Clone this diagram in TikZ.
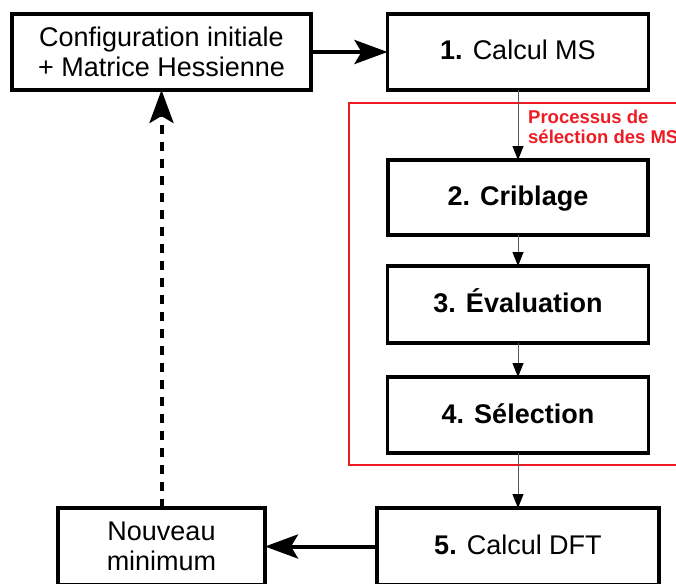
\documentclass[tikz,border=0pt]{standalone}
\usepackage{fontspec}
\setmainfont{Liberation Sans}
\usetikzlibrary{arrows.meta}
\definecolor{redbox}{RGB}{237,28,36}
\begin{document}
\begin{tikzpicture}[x=1pt,y=-1pt,
  box/.style={draw=black, line width=3.5pt, fill=white, inner sep=0pt, outer sep=0pt,
    font=\fontsize{27}{29.5}\selectfont},
  onel/.style={text height=20pt, text depth=4pt},
  thinarrow/.style={draw=black!65, line width=1pt,
    -{Triangle[length=14pt,width=11pt,color=black]}},
  bigarrow/.style={draw=black, line width=4pt,
    -{Stealth[length=33pt,width=24pt,inset=7pt]}},
  dasharrow/.style={draw=black, line width=4pt, dash pattern=on 9pt off 8pt,
    -{Stealth[length=33pt,width=24pt,inset=7pt]}}
]
\path[use as bounding box, clip] (0,0) rectangle (676,583);

% red process frame
\draw[redbox, line width=1.5pt] (349,103) rectangle (720,465);

\node[box, minimum width=299pt, minimum height=76pt, align=center] (config) at (161.5,52)
  {Configuration initiale\\+ Matrice Hessienne};
\node[box, onel, minimum width=261pt, minimum height=76pt] (calc1) at (518,52)
  {\textbf{1.} Calcul MS};
\node[box, onel, minimum width=260pt, minimum height=75pt, font=\bfseries\fontsize{27}{29.5}\selectfont] (crib) at (518,197.5)
  {2. Criblage};
\node[box, onel, minimum width=261pt, minimum height=77pt, font=\bfseries\fontsize{27}{29.5}\selectfont] (eval) at (518,304.5)
  {3. Évaluation};
\node[box, onel, minimum width=261pt, minimum height=76pt, font=\bfseries\fontsize{27}{29.5}\selectfont] (sel) at (518,415)
  {4. Sélection};
\node[box, onel, minimum width=282pt, minimum height=77pt] (dft) at (518,546.5)
  {\textbf{5.} Calcul DFT};
\node[box, minimum width=207pt, minimum height=77pt, align=center,
  font=\fontsize{27}{30}\selectfont] (nouv) at (161.5,546.5)
  {Nouveau\\minimum};

\node[anchor=north west, inner sep=0pt, align=left, text=redbox,
  font=\bfseries\fontsize{18.5}{20}\selectfont] (lbl) at (528,110)
  {Processus de\\sélection des MS};

\draw[bigarrow] (config) -- (calc1);
\draw[thinarrow] (calc1) -- (crib);
\draw[thinarrow] (crib) -- (eval);
\draw[thinarrow] (eval) -- (sel);
\draw[thinarrow] (sel) -- (dft);
\draw[bigarrow] (dft) -- (nouv);
\draw[dasharrow] (nouv) -- (config);
\end{tikzpicture}
\end{document}
